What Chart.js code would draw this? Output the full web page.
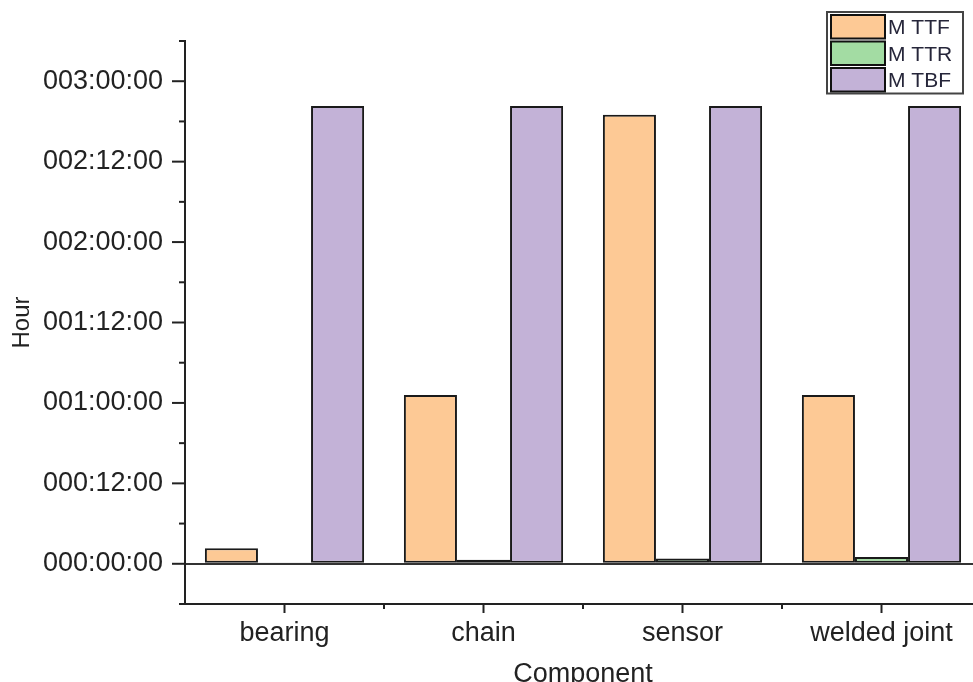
<!doctype html>
<html>
<head>
<title>MTTF MTTR MTBF</title>
<script src="https://cdn.jsdelivr.net/npm/chart.js@4.4.1/dist/chart.umd.min.js"></script>
<style>
  html, body { margin: 0; padding: 0; background: #fff; overflow: hidden; }
  #container { width: 981px; height: 682px; }
</style>
</head>
<body>
<div id="container"><canvas id="canvas"></canvas></div>
<script>
// values in hours
var components = ['bearing', 'chain', 'sensor', 'welded joint'];
var mttf = [2.3, 25.2, 67.0, 25.2];
var mttr = [0.2, 0.6, 0.8, 1.0];
var mtbf = [68.3, 68.3, 68.3, 68.3];
var seriesNames = ['M TTF', 'M TTR', 'M TBF'];
var yMin = -6, yMax = 78, yStep = 6;

var fontFam = '"Liberation Sans", Arial, sans-serif';
var axisColor = '#222';

function fmtHours(h) {
  var d = Math.floor(h / 24), r = h % 24;
  return String(d).padStart(3, '0') + ':' + String(r).padStart(2, '0') + ':00';
}

// tick marks drawn by hand so major/minor get different lengths
var tickMarks = {
  id: 'tickMarks',
  afterDraw: function(chart) {
    var c = chart.ctx, ys = chart.scales.y, xs = chart.scales.x;
    c.save();
    c.strokeStyle = axisColor;
    c.lineWidth = 2;
    ys.ticks.forEach(function(t) {
      var y = ys.getPixelForValue(t.value);
      var len = (t.value % 12 === 0 && t.value >= 0 && t.value < yMax) ? 13 : 6;
      c.beginPath();
      c.moveTo(ys.right - len, y);
      c.lineTo(ys.right, y);
      c.stroke();
    });
    for (var i = 0; i < components.length; i++) {
      var xc = xs.getPixelForValue(i);
      c.beginPath();
      c.moveTo(xc, xs.top);
      c.lineTo(xc, xs.top + 9);
      c.stroke();
      if (i > 0) {
        var xb = xs.getPixelForValue(i - 0.5);
        c.beginPath();
        c.moveTo(xb, xs.top);
        c.lineTo(xb, xs.top + 5);
        c.stroke();
      }
    }
    c.restore();
  }
};

// boxed legend in the top right corner
var boxLegend = {
  id: 'boxLegend',
  afterDraw: function(chart) {
    var c = chart.ctx;
    var x0 = 827, y0 = 12, w = 136, rowH = 26.5;
    c.save();
    c.fillStyle = '#fff';
    c.fillRect(x0, y0, w, rowH * 3 + 2);
    c.strokeStyle = '#444';
    c.lineWidth = 2;
    c.strokeRect(x0, y0, w, rowH * 3 + 2);
    c.font = '21px ' + fontFam;
    c.textBaseline = 'middle';
    chart.data.datasets.forEach(function(ds, i) {
      var ry = y0 + 2 + i * rowH;
      c.fillStyle = ds.backgroundColor;
      c.fillRect(x0 + 4, ry + 1, 54, rowH - 3);
      c.strokeStyle = '#111';
      c.lineWidth = 2;
      c.strokeRect(x0 + 4, ry + 1, 54, rowH - 3);
      c.fillStyle = '#26263a';
      c.fillText(ds.label, x0 + 61, ry + rowH / 2 + 1);
    });
    c.restore();
  }
};

var ctx = document.getElementById('canvas').getContext('2d');
new Chart(ctx, {
  type: 'bar',
  data: {
    labels: components,
    datasets: [{
      label: seriesNames[0],
      data: mttf,
      backgroundColor: '#fdc995',
      borderColor: '#1a1a1a'
    }, {
      label: seriesNames[1],
      data: mttr,
      backgroundColor: '#a3dca3',
      borderColor: '#1a1a1a'
    }, {
      label: seriesNames[2],
      data: mtbf,
      backgroundColor: '#c3b2d7',
      borderColor: '#1a1a1a'
    }]
  },
  options: {
    responsive: true,
    maintainAspectRatio: false,
    animation: false,
    layout: { padding: { left: 0, right: 0, top: 41, bottom: 0 } },
    datasets: {
      bar: { borderWidth: 2, borderSkipped: false, categoryPercentage: 0.8, barPercentage: 1.0 }
    },
    plugins: {
      legend: { display: false },
      tooltip: { enabled: false }
    },
    scales: {
      x: {
        type: 'category',
        offset: true,
        grid: { display: false, drawTicks: false },
        border: { display: true, color: axisColor, width: 2 },
        ticks: { color: '#222', font: { family: fontFam, size: 27 }, padding: 13, maxRotation: 0 },
        title: { display: true, text: 'Component', color: '#222', font: { family: fontFam, size: 27 }, padding: { top: 0, bottom: -9 } },
        afterFit: function(s) { s.height = 78; }
      },
      y: {
        type: 'linear',
        min: yMin,
        max: yMax,
        grid: {
          drawTicks: false,
          lineWidth: 2,
          color: function(c) { return c.tick && c.tick.value === 0 ? '#333' : 'rgba(0,0,0,0)'; }
        },
        border: { display: true, color: axisColor, width: 2 },
        ticks: {
          stepSize: yStep,
          autoSkip: false,
          padding: 22,
          color: '#222',
          font: { family: fontFam, size: 27 },
          callback: function(v) { return (v % 12 === 0 && v >= 0 && v < yMax) ? fmtHours(v) : ''; }
        },
        title: { display: true, text: 'Hour', color: '#222', font: { family: fontFam, size: 24 }, padding: { top: 8, bottom: 0 } },
        afterFit: function(s) { s.width = 185; }
      }
    }
  },
  plugins: [tickMarks, boxLegend]
});
</script>
</body>
</html>
